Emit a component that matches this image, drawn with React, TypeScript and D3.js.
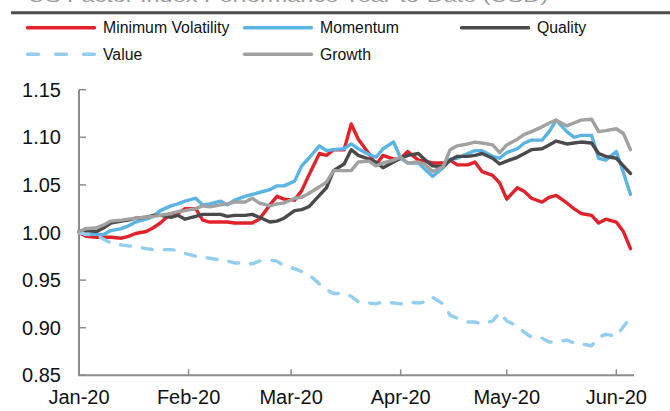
import React from "react";
import * as d3 from "d3";

const dates: string[] = [
  "2020-01-01","2020-01-03","2020-01-06","2020-01-08","2020-01-10","2020-01-13","2020-01-15","2020-01-17","2020-01-20","2020-01-22","2020-01-24","2020-01-27","2020-01-29","2020-01-31",
  "2020-02-03","2020-02-05","2020-02-07","2020-02-10","2020-02-12","2020-02-14","2020-02-17","2020-02-19","2020-02-21","2020-02-24","2020-02-26","2020-02-28",
  "2020-03-02","2020-03-04","2020-03-06","2020-03-09","2020-03-11","2020-03-13","2020-03-16","2020-03-18","2020-03-20","2020-03-23","2020-03-25","2020-03-27","2020-03-30",
  "2020-04-01","2020-04-03","2020-04-06","2020-04-08","2020-04-10","2020-04-13","2020-04-15","2020-04-17","2020-04-20","2020-04-22","2020-04-24","2020-04-27","2020-04-29",
  "2020-05-01","2020-05-04","2020-05-06","2020-05-08","2020-05-11","2020-05-13","2020-05-15","2020-05-18","2020-05-20","2020-05-22","2020-05-25","2020-05-27","2020-05-29",
  "2020-06-01","2020-06-03","2020-06-05",
];

const minVol: number[] = [
  1.000, 0.996, 0.995, 0.995, 0.995, 0.994, 0.996, 0.999, 1.001, 1.005, 1.010, 1.020, 1.020, 1.025,
  1.025, 1.013, 1.011, 1.011, 1.011, 1.010, 1.010, 1.010, 1.014, 1.029, 1.038, 1.035,
  1.034, 1.044, 1.060, 1.083, 1.081, 1.087, 1.087, 1.114, 1.098, 1.083, 1.071, 1.081, 1.077,
  1.078, 1.085, 1.076, 1.075, 1.073, 1.073, 1.076, 1.071, 1.071, 1.074, 1.064, 1.060, 1.052,
  1.035, 1.047, 1.043, 1.036, 1.032, 1.037, 1.039, 1.031, 1.025, 1.020, 1.018, 1.010, 1.014,
  1.011, 1.001, 0.983,
];

const momentum: number[] = [
  1.001, 0.998, 0.998, 0.998, 1.002, 1.004, 1.007, 1.011, 1.014, 1.017, 1.023, 1.028, 1.030, 1.033,
  1.036, 1.029, 1.030, 1.033, 1.029, 1.034, 1.038, 1.040, 1.042, 1.045, 1.049, 1.049,
  1.054, 1.070, 1.078, 1.091, 1.086, 1.087, 1.088, 1.093, 1.088, 1.082, 1.079, 1.088, 1.095,
  1.078, 1.073, 1.073, 1.066, 1.059, 1.068, 1.077, 1.078, 1.083, 1.086, 1.086, 1.080, 1.078,
  1.084, 1.088, 1.094, 1.097, 1.097, 1.106, 1.118, 1.106, 1.100, 1.102, 1.102, 1.078, 1.076,
  1.085, 1.063, 1.040,
];

const quality: number[] = [
  1.001, 1.002, 1.001, 1.005, 1.010, 1.012, 1.013, 1.015, 1.016, 1.018, 1.018, 1.016, 1.018, 1.014,
  1.017, 1.019, 1.019, 1.019, 1.017, 1.018, 1.018, 1.019, 1.016, 1.011, 1.012, 1.015,
  1.023, 1.024, 1.027, 1.039, 1.047, 1.065, 1.072, 1.087, 1.081, 1.077, 1.074, 1.068, 1.074,
  1.078, 1.081, 1.083, 1.076, 1.070, 1.069, 1.076, 1.080, 1.080, 1.081, 1.083, 1.078, 1.072,
  1.075, 1.079, 1.083, 1.087, 1.088, 1.092, 1.096, 1.093, 1.094, 1.095, 1.094, 1.083, 1.080,
  1.078, 1.070, 1.062,
];

const value: number[] = [
  1.000, 0.998, 0.997, 0.993, 0.989, 0.987, 0.986, 0.985, 0.983, 0.982, 0.982, 0.982, 0.981, 0.978,
  0.975, 0.974, 0.973, 0.971, 0.970, 0.968, 0.968, 0.967, 0.970, 0.971, 0.970, 0.965,
  0.962, 0.959, 0.956, 0.946, 0.940, 0.936, 0.936, 0.933, 0.927, 0.926, 0.925, 0.927, 0.926,
  0.925, 0.927, 0.926, 0.927, 0.932, 0.925, 0.913, 0.910, 0.906, 0.906, 0.904, 0.907, 0.916,
  0.907, 0.902, 0.895, 0.890, 0.889, 0.885, 0.885, 0.887, 0.884, 0.883, 0.881, 0.890, 0.893,
  0.891, 0.901, 0.911,
];

const growth: number[] = [
  1.001, 1.004, 1.005, 1.008, 1.012, 1.013, 1.014, 1.015, 1.016, 1.017, 1.018, 1.020, 1.022, 1.023,
  1.025, 1.028, 1.027, 1.029, 1.030, 1.032, 1.032, 1.036, 1.031, 1.028, 1.030, 1.031,
  1.036, 1.037, 1.041, 1.048, 1.053, 1.065, 1.065, 1.065, 1.074, 1.075, 1.070, 1.073, 1.076,
  1.079, 1.073, 1.074, 1.071, 1.064, 1.069, 1.087, 1.091, 1.093, 1.095, 1.094, 1.092, 1.084,
  1.092, 1.098, 1.103, 1.106, 1.111, 1.115, 1.118, 1.112, 1.115, 1.118, 1.119, 1.106, 1.107,
  1.109, 1.104, 1.087,
];

const yTicks: number[] = [0.85, 0.9, 0.95, 1.0, 1.05, 1.1, 1.15];
const xTickDates: string[] = ["2020-01-01", "2020-02-01", "2020-03-01", "2020-04-01", "2020-05-01", "2020-06-01"];
const xTickLabels: string[] = ["Jan-20", "Feb-20", "Mar-20", "Apr-20", "May-20", "Jun-20"];
const titleText = "US Factor Index Performance Year-to-Date (USD)";

const seriesList = [
  { name: "Minimum Volatility", values: minVol, color: "#E2222A", dash: null as string | null, legendDash: null as string | null },
  { name: "Momentum", values: momentum, color: "#5AB4E3", dash: null, legendDash: null },
  { name: "Quality", values: quality, color: "#4A4A4D", dash: null, legendDash: null },
  { name: "Value", values: value, color: "#93CDF0", dash: "10,12", legendDash: "11,17" },
  { name: "Growth", values: growth, color: "#A1A1A1", dash: null, legendDash: null },
];

const FONT = "'Liberation Sans', Arial, Helvetica, sans-serif";

export default function App() {
  const W = 670;
  const H = 411;
  const parse = d3.utcParse("%Y-%m-%d");
  const dts = dates.map((d) => parse(d) as Date);

  const x = d3.scaleUtc().domain([parse("2020-01-01") as Date, parse("2020-06-06") as Date]).range([79, 634]);
  const y = d3.scaleLinear().domain([0.85, 1.15]).range([375.3, 89.7]);

  const line = d3
    .line<number>()
    .x((_, i) => x(dts[i]))
    .y((v) => y(v));

  const axisColor = "#8C8C8C";

  const legendPos = [
    { x: 26, y: 27.7 },
    { x: 243, y: 27.7 },
    { x: 460, y: 27.7 },
    { x: 26, y: 54.3 },
    { x: 243, y: 54.3 },
  ];

  return (
    <svg
      width={W}
      height={H}
      style={{ position: "absolute", left: 0, top: 0, background: "#fff" }}
      fontFamily={FONT}
    >
      <rect x={0} y={0} width={W} height={H} fill="#fff" />
      {/* title, cut off at the top edge as in the reference */}
      <text x={28} y={1.8} fontSize={17} fill="#9a9a9a" textLength={520} lengthAdjust="spacingAndGlyphs">
        {titleText}
      </text>
      <line x1={11} x2={W} y1={12.7} y2={12.7} stroke="#4D4D4F" strokeWidth={3} />

      {/* legend */}
      {seriesList.map((s, i) => {
        const p = legendPos[i];
        return (
          <g key={s.name}>
            <line
              x1={p.x + 1.5}
              x2={p.x + 68.5}
              y1={p.y}
              y2={p.y}
              stroke={s.color}
              strokeWidth={3.4}
              strokeLinecap="round"
              strokeDasharray={s.legendDash ?? undefined}
            />
            <text x={p.x + 77} y={p.y + 5.6} fontSize={15.8} fill="#111">
              {s.name}
            </text>
          </g>
        );
      })}

      {/* axes */}
      <line x1={79} x2={79} y1={y(1.15)} y2={y(0.85)} stroke={axisColor} strokeWidth={2} />
      <line x1={78} x2={634} y1={y(0.85)} y2={y(0.85)} stroke={axisColor} strokeWidth={2} />
      {yTicks.map((t) => (
        <g key={t}>
          <line x1={79} x2={86} y1={y(t)} y2={y(t)} stroke={axisColor} strokeWidth={1.5} />
          <text x={61} y={y(t) + 7} fontSize={20} textAnchor="end" fill="#111">
            {d3.format(".2f")(t)}
          </text>
        </g>
      ))}
      {xTickDates.map((d, i) => {
        const xx = x(parse(d) as Date);
        return (
          <g key={d}>
            <line x1={xx} x2={xx} y1={y(0.85)} y2={y(0.85) - 6} stroke={axisColor} strokeWidth={1.5} />
            <text x={xx} y={404} fontSize={20} textAnchor="middle" fill="#111">
              {xTickLabels[i]}
            </text>
          </g>
        );
      })}

      {/* series */}
      {seriesList.map((s) => (
        <path
          key={s.name}
          d={line(s.values) ?? ""}
          fill="none"
          stroke={s.color}
          strokeWidth={3.4}
          strokeLinejoin="round"
          strokeLinecap="round"
          strokeDasharray={s.dash ?? undefined}
        />
      ))}
    </svg>
  );
}
